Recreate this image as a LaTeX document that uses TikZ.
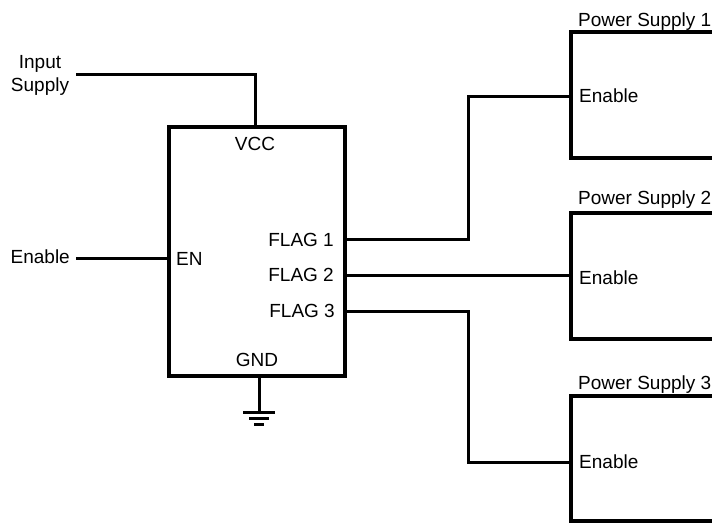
\documentclass[tikz,border=0pt]{standalone}
\usepackage{fontspec}
\setmainfont{Liberation Sans}
\begin{document}
\begin{tikzpicture}[x=1pt,y=-1pt,
  wire/.style={line width=3pt,line cap=butt,line join=miter},
  lbl/.style={font=\fontsize{19}{23}\selectfont,inner sep=0pt,text=black},
  box/.style={line width=4.2pt,draw=black,fill=none}]
\useasboundingbox (0,0) rectangle (712,523);
\clip (0,0) rectangle (712,523);
% main IC
\coordinate (icTL) at (169,127);
\coordinate (icBR) at (345,376);
\draw[box] (icTL) rectangle (icBR);
% supplies
\draw[box] (716,32) -- (571,32) -- (571,158) -- (716,158);
\draw[box] (716,213) -- (571,213) -- (571,339) -- (716,339);
\draw[box] (716,396) -- (571,396) -- (571,521) -- (716,521);
% labels
\node[lbl,align=center] (inp) at (40,75) {Input\\Supply};
\node[lbl,anchor=east] (en) at (70,257) {Enable};
\node[lbl] (vcc) at (255,144) {VCC};
\node[lbl,anchor=west] (enp) at (176,259) {EN};
\node[lbl,anchor=east] (f1) at (334,240) {FLAG 1};
\node[lbl,anchor=east] (f2) at (334,275) {FLAG 2};
\node[lbl,anchor=east] (f3) at (335,311) {FLAG 3};
\node[lbl] (gnd) at (257,360) {GND};
\node[lbl,anchor=west] (e1) at (579,96) {Enable};
\node[lbl,anchor=west] (e2) at (579,278) {Enable};
\node[lbl,anchor=west] (e3) at (579,462) {Enable};
\node[lbl,anchor=west] (p1) at (578,22) {Power Supply 1};
\node[lbl,anchor=west] (p2) at (578,200) {Power Supply 2};
\node[lbl,anchor=west] (p3) at (578,385) {Power Supply 3};
% wires
\coordinate (w1) at (76,74);
\draw[wire] (w1) -| (255,127);
\coordinate (w2) at (76,258);
\draw[wire] (w2) -- (169,258);
\draw[wire] (345,239) -- (468,239) -- (468,96) -- (571,96);
\draw[wire] (345,275) -- (571,275);
\draw[wire] (345,311) -- (468,311) -- (468,462) -- (571,462);
% ground
\draw[wire] (259,376) -- (259,412);
\draw[wire] (243,412) -- (275,412);
\draw[wire] (249,418) -- (269,418);
\draw[wire] (254,424) -- (264,424);
\end{tikzpicture}
\end{document}
